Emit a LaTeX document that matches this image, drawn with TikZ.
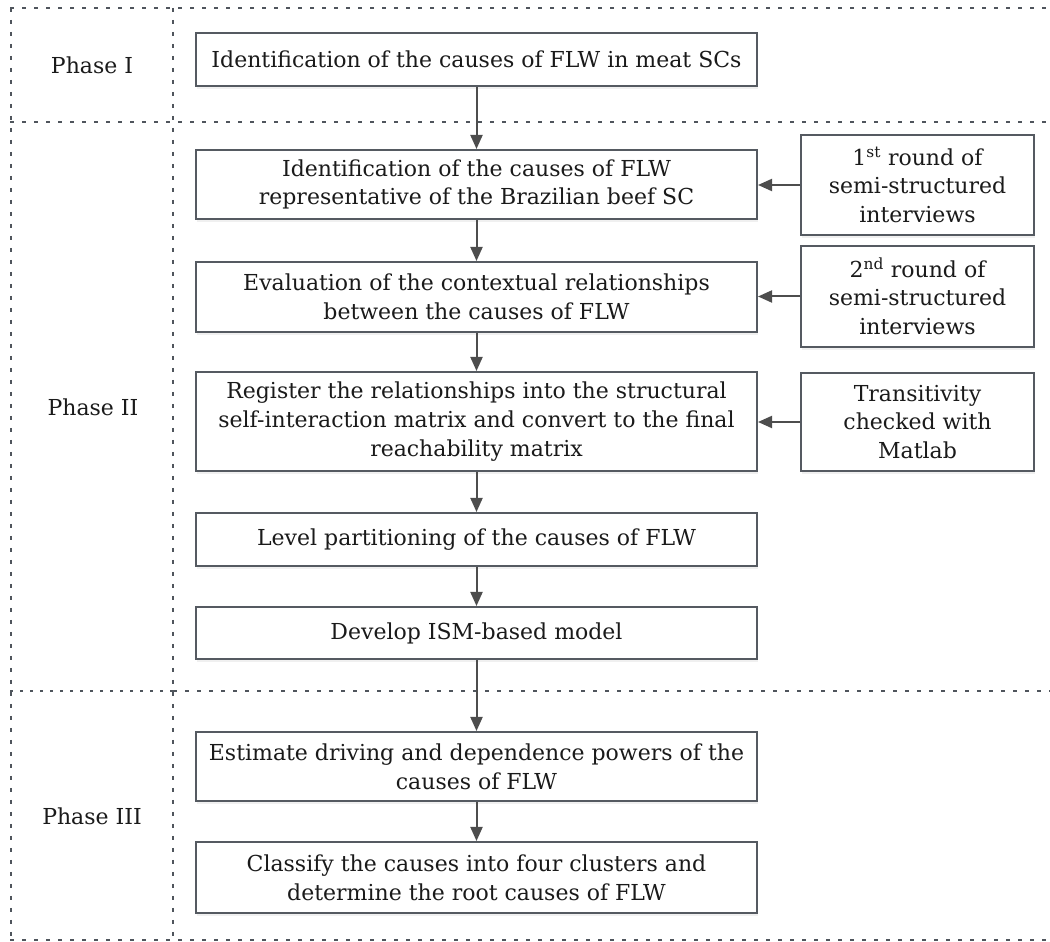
\documentclass[tikz,border=0pt]{standalone}
\usepackage{fontspec}
\setmainfont{DejaVu Serif}
\usetikzlibrary{arrows.meta,shadows}
\definecolor{linegray}{HTML}{4F555C}
\definecolor{boxgray}{HTML}{555A61}
\definecolor{arrowgray}{HTML}{4D4D4D}
\definecolor{txt}{HTML}{1A1A1A}
\newcommand{\mainfs}{\fontsize{22pt}{28.8pt}\selectfont}
\begin{document}
\begin{tikzpicture}[x=1pt,y=1pt,
  stepbox/.style={draw=boxgray, line width=2pt, fill=white, minimum width=561pt,
    inner sep=0pt, align=center, font=\mainfs, text=txt,
    drop shadow={opacity=0.12, shadow xshift=1pt, shadow yshift=-3pt}},
  sidebox/.style={stepbox, minimum width=233pt},
  phaselabel/.style={font=\mainfs, text=txt, inner sep=0pt},
  sepline/.style={linegray, line width=1.8pt, dash pattern=on 4pt off 8pt},
  dotline/.style={linegray, line width=2pt, dash pattern=on 3pt off 7pt},
  arr/.style={arrowgray, line width=2pt, -{Triangle[length=14pt,width=12pt]}}]
\useasboundingbox (0,0) rectangle (1050,942);
% frame lines
\draw[sepline] (10,934) -- (1050,934);
\draw[sepline] (10,820) -- (1050,820);
\draw[dotline] (10,251) -- (173,251);
\draw[sepline] (173,251) -- (1050,251);
\draw[sepline] (10,2) -- (1050,2);
\draw[sepline] (11,934) -- (11,2);
\draw[sepline] (173,934) -- (173,2);
% phase labels
\node[phaselabel] (p1) at (92,877) {Phase I};
\node[phaselabel] (p2) at (93,535) {Phase II};
\node[phaselabel] (p3) at (92,126) {Phase III};
% main boxes
\node[stepbox, minimum height=53pt] (b1) at (476.5,882.5) {Identification of the causes of FLW in meat SCs};
\node[stepbox, minimum height=69pt] (b2) at (476.5,757.5) {Identification of the causes of FLW\\representative of the Brazilian beef SC};
\node[stepbox, minimum height=70pt] (b3) at (476.5,645) {Evaluation of the contextual relationships\\between the causes of FLW};
\node[stepbox, minimum height=99pt] (b4) at (476.5,520.5) {Register the relationships into the structural\\self-interaction matrix and convert to the final\\reachability matrix};
\node[stepbox, minimum height=53pt] (b5) at (476.5,402.5) {Level partitioning of the causes of FLW};
\node[stepbox, minimum height=52pt] (b6) at (476.5,309) {Develop ISM-based model};
\node[stepbox, minimum height=69pt] (b7) at (476.5,175.5) {Estimate driving and dependence powers of the\\causes of FLW};
\node[stepbox, minimum height=71pt] (b8) at (476.5,64.5) {Classify the causes into four clusters and\\determine the root causes of FLW};
% side boxes
\node[sidebox, minimum height=100pt] (r1) at (917.5,757) {1\textsuperscript{st} round of\\semi-structured\\interviews};
\node[sidebox, minimum height=101pt] (r2) at (917.5,645.5) {2\textsuperscript{nd} round of\\semi-structured\\interviews};
\node[sidebox, minimum height=98pt] (r3) at (917.5,520) {Transitivity\\checked with\\Matlab};
% arrows
\draw[arr] (b1) -- (b2);
\draw[arr] (b2) -- (b3);
\draw[arr] (b3) -- (b4);
\draw[arr] (b4) -- (b5);
\draw[arr] (b5) -- (b6);
\draw[arr] (b6) -- (b7);
\draw[arr] (b7) -- (b8);
\draw[arr] (r1) -- (r1 -| b2.east);
\draw[arr] (r2) -- (r2 -| b3.east);
\draw[arr] (r3) -- (r3 -| b4.east);
\end{tikzpicture}
\end{document}
